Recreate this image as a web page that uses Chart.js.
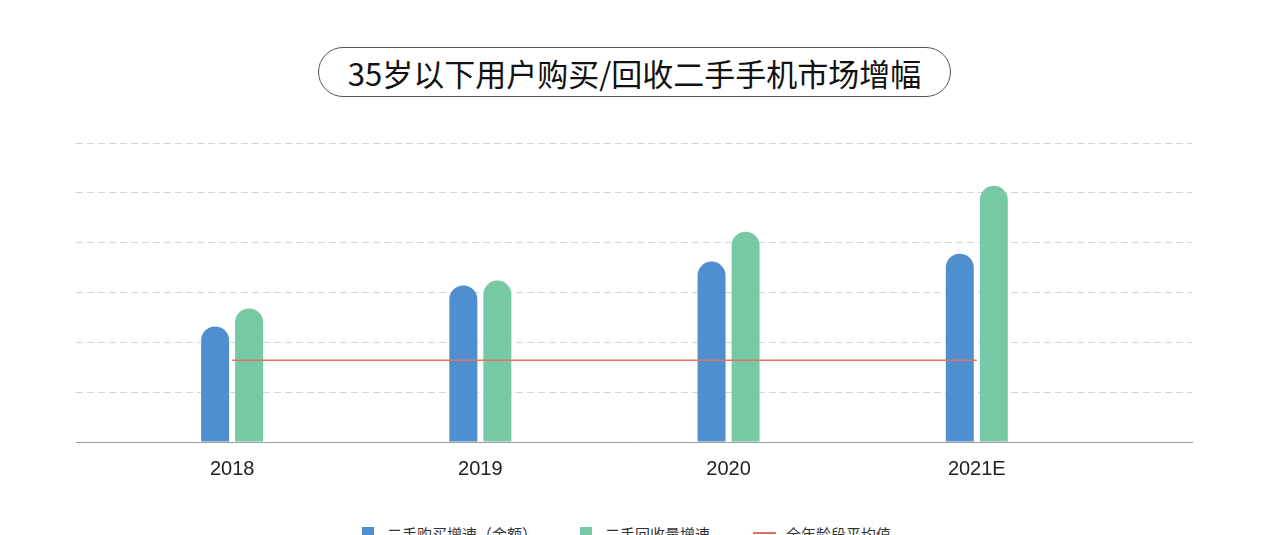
<!DOCTYPE html>
<html>
<head>
<meta charset="utf-8">
<script src="https://cdn.jsdelivr.net/npm/chart.js@4.4.1/dist/chart.umd.min.js"></script>
<style>
html,body{margin:0;padding:0;width:1269px;height:535px;overflow:hidden;background:#fff;font-family:"Noto Sans CJK SC","Noto Sans",sans-serif;}
#title{position:absolute;left:318px;top:47px;width:633px;height:50px;box-sizing:border-box;border:1px solid #555;border-radius:25px;display:flex;align-items:center;justify-content:center;font-size:31px;color:#111;letter-spacing:0px;}
#chart{position:absolute;left:0;top:0;}
#legend{position:absolute;left:362px;top:525px;height:16px;display:flex;align-items:center;gap:43px;font-size:15px;color:#333;white-space:nowrap;}
.item{display:flex;align-items:center;}
.sq{width:12px;height:12px;margin-right:13px;}
.ln{width:23px;height:2px;margin-right:10px;}
</style>
</head>
<body>
<div id="title">35岁以下用户购买/回收二手手机市场增幅</div>
<canvas id="chart" width="1269" height="498"></canvas>
<div id="legend"></div>
<script>
const categories = ['2018', '2019', '2020', '2021E'];
const buyGrowth = [2.32, 3.14, 3.62, 3.78];
const recycleGrowth = [2.68, 3.24, 4.22, 5.14];
const allAgeAverage = [1.64, 1.64, 1.64, 1.64];
const seriesNames = ['二手购买增速（金额）', '二手回收量增速', '全年龄段平均值'];

const blue = '#4f8fce';
const green = '#77c8a5';
const red = '#e07362';

const toPoints = arr => arr.map((v, i) => ({ x: i, y: v }));

const chart = new Chart(document.getElementById('chart'), {
  type: 'bar',
  data: {
    datasets: [
      {
        type: 'line',
        label: seriesNames[2],
        data: toPoints(allAgeAverage),
        borderColor: red,
        backgroundColor: red,
        borderWidth: 1.5,
        pointRadius: 0,
        order: 0
      },
      {
        label: seriesNames[0],
        data: toPoints(buyGrowth),
        backgroundColor: blue,
        borderRadius: { topLeft: 14, topRight: 14, bottomLeft: 0, bottomRight: 0 },
        borderSkipped: false,
        categoryPercentage: 0.274,
        barPercentage: 0.8235,
        order: 1
      },
      {
        label: seriesNames[1],
        data: toPoints(recycleGrowth),
        backgroundColor: green,
        borderRadius: { topLeft: 14, topRight: 14, bottomLeft: 0, bottomRight: 0 },
        borderSkipped: false,
        categoryPercentage: 0.274,
        barPercentage: 0.8235,
        order: 1
      }
    ]
  },
  options: {
    responsive: false,
    animation: false,
    devicePixelRatio: 1,
    layout: { padding: { left: 76, right: 77, top: 143, bottom: 2 } },
    plugins: { legend: { display: false }, tooltip: { enabled: false } },
    scales: {
      x: {
        type: 'linear',
        offset: false,
        min: -0.629,
        max: 3.867,
        afterBuildTicks: s => { s.ticks = categories.map((_, i) => ({ value: i })); },
        grid: { display: false, drawTicks: false, offset: false },
        border: { display: true, color: '#9a9a9a', width: 1 },
        ticks: {
          autoSkip: false,
          maxRotation: 0,
          padding: 15,
          color: '#222',
          font: { family: 'Liberation Sans, Arial, sans-serif', size: 20 },
          callback: v => categories[v] ?? ''
        }
      },
      y: {
        min: 0,
        max: 6,
        ticks: { display: false, stepSize: 1 },
        grid: {
          drawTicks: false,
          color: c => (c.tick && c.tick.value === 0) ? 'rgba(0,0,0,0)' : '#d6d6d6',
          lineWidth: 1
        },
        border: { display: false, dash: [7, 4] }
      }
    }
  }
});

const legend = document.getElementById('legend');
[1, 2, 0].forEach(idx => {
  const ds = chart.data.datasets[idx];
  const item = document.createElement('div');
  item.className = 'item';
  const mark = document.createElement('span');
  mark.className = ds.type === 'line' ? 'ln' : 'sq';
  mark.style.background = ds.type === 'line' ? ds.borderColor : ds.backgroundColor;
  const txt = document.createElement('span');
  txt.textContent = ds.label;
  item.appendChild(mark);
  item.appendChild(txt);
  legend.appendChild(item);
});
</script>
</body>
</html>
